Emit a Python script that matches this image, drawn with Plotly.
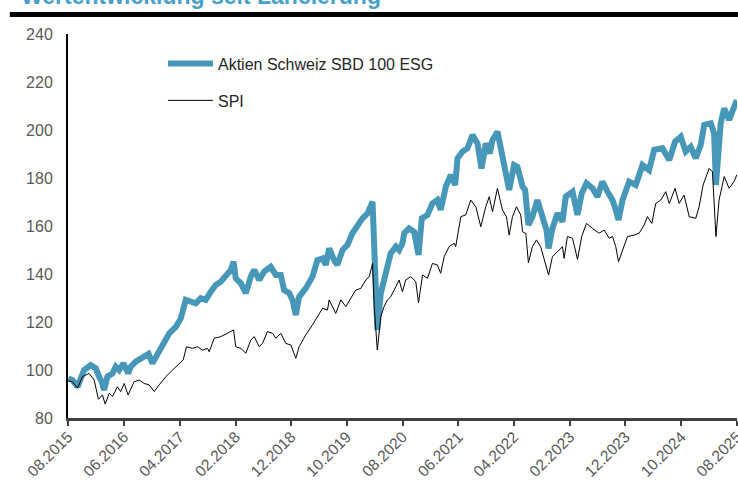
import plotly.graph_objects as go

esg_dates = [
    "2015-08-03", "2015-08-25", "2015-09-22", "2015-10-28", "2015-12-03", "2015-12-31", "2016-01-18",
    "2016-02-01", "2016-02-14", "2016-03-03", "2016-03-31", "2016-04-18", "2016-05-06", "2016-05-30",
    "2016-06-24", "2016-07-09", "2016-08-05", "2016-09-11", "2016-10-14", "2016-11-04", "2016-12-02",
    "2016-12-29", "2017-02-04", "2017-03-12", "2017-04-08", "2017-05-05", "2017-06-01", "2017-06-29",
    "2017-07-26", "2017-08-22", "2017-09-19", "2017-10-16", "2017-11-12", "2017-12-10", "2018-01-06",
    "2018-01-21", "2018-02-02", "2018-03-02", "2018-03-29", "2018-04-25", "2018-05-14", "2018-06-10",
    "2018-07-07", "2018-08-12", "2018-09-09", "2018-10-06", "2018-10-24", "2018-11-21", "2018-12-09",
    "2018-12-27", "2019-01-14", "2019-02-19", "2019-03-28", "2019-04-24", "2019-05-22", "2019-06-09",
    "2019-06-27", "2019-07-24", "2019-08-11", "2019-09-08", "2019-10-05", "2019-11-01", "2019-11-29",
    "2019-12-26", "2020-01-23", "2020-02-19", "2020-02-28", "2020-03-16", "2020-04-04", "2020-05-01",
    "2020-05-28", "2020-06-25", "2020-07-13", "2020-07-31", "2020-08-10", "2020-09-06", "2020-10-03",
    "2020-10-27", "2020-11-14", "2020-12-15", "2021-01-11", "2021-02-07", "2021-02-25", "2021-03-25",
    "2021-04-21", "2021-05-15", "2021-05-28", "2021-06-24", "2021-07-21", "2021-08-18", "2021-09-14",
    "2021-10-06", "2021-10-29", "2021-11-20", "2021-12-05", "2022-01-01", "2022-01-25", "2022-02-12",
    "2022-03-06", "2022-04-02", "2022-04-20", "2022-05-18", "2022-06-01", "2022-06-19", "2022-07-11",
    "2022-08-07", "2022-08-31", "2022-09-26", "2022-10-07", "2022-10-28", "2022-11-25", "2022-12-22",
    "2023-01-09", "2023-02-15", "2023-03-14", "2023-04-06", "2023-05-02", "2023-06-04", "2023-07-01",
    "2023-07-28", "2023-08-25", "2023-09-21", "2023-10-09", "2023-10-24", "2023-11-15", "2023-12-21",
    "2024-01-26", "2024-03-03", "2024-04-08", "2024-05-06", "2024-06-20", "2024-07-27", "2024-08-28",
    "2024-09-28", "2024-10-25", "2024-11-21", "2024-12-19", "2025-01-15", "2025-02-03", "2025-03-11",
    "2025-03-29", "2025-04-08", "2025-05-04", "2025-05-23", "2025-06-19", "2025-07-16", "2025-07-31",
]
esg_values = [
    96.5, 95.8, 93.0, 100.0, 102.0, 100.7, 97.2,
    95.1, 91.7, 97.2, 98.6, 101.4, 100.0, 102.8,
    98.6, 101.4, 103.5, 105.5, 106.7, 102.8, 107.0,
    110.4, 115.3, 118.0, 121.5, 129.2, 128.5, 127.8,
    129.9, 129.2, 132.6, 135.4, 136.8, 139.6, 141.7,
    145.1, 138.2, 136.1, 132.0, 138.9, 141.7, 137.5,
    141.0, 143.0, 139.6, 139.6, 133.3, 132.0, 129.2,
    122.9, 130.5, 134.0, 138.9, 145.8, 146.5, 143.8,
    150.7, 145.8, 143.8, 150.0, 152.1, 157.0, 160.4,
    163.2, 165.3, 170.1, 151.4, 116.7, 132.0, 140.3,
    148.6, 151.4, 150.0, 152.8, 157.0, 159.0, 157.6,
    147.9, 163.2, 164.6, 169.4, 170.8, 166.7, 176.4,
    181.3, 177.1, 188.2, 191.0, 192.4, 197.9, 194.4,
    184.0, 194.4, 190.3, 195.8, 199.3, 189.6, 185.4,
    175.0, 185.4, 184.7, 176.4, 175.0, 160.4, 163.9,
    170.8, 165.3, 158.3, 150.7, 159.0, 165.3, 161.8,
    172.2, 174.3, 164.6, 173.6, 177.8, 175.7, 172.2,
    178.5, 174.3, 170.8, 166.7, 162.5, 170.8, 178.5,
    177.1, 185.4, 183.3, 191.7, 192.4, 187.5, 195.1,
    197.2, 191.0, 193.0, 188.2, 193.8, 202.1, 202.8,
    198.6, 177.1, 202.8, 209.0, 204.2, 210.4, 212.5,
]

spi_dates = [
    "2015-08-03", "2015-08-25", "2015-09-22", "2015-10-19", "2015-11-24", "2015-12-22", "2016-01-14",
    "2016-02-05", "2016-02-20", "2016-03-13", "2016-03-31", "2016-04-27", "2016-05-15", "2016-06-03",
    "2016-06-24", "2016-07-09", "2016-07-27", "2016-08-24", "2016-09-20", "2016-10-17", "2016-11-14",
    "2016-12-11", "2017-01-16", "2017-02-22", "2017-03-30", "2017-04-21", "2017-05-09", "2017-06-11",
    "2017-07-08", "2017-08-04", "2017-09-01", "2017-09-10", "2017-10-07", "2017-11-12", "2017-12-19",
    "2018-01-21", "2018-02-02", "2018-03-02", "2018-03-29", "2018-04-25", "2018-05-14", "2018-06-10",
    "2018-06-28", "2018-07-25", "2018-08-22", "2018-09-09", "2018-10-06", "2018-11-02", "2018-11-30",
    "2018-12-27", "2019-01-14", "2019-02-19", "2019-03-28", "2019-05-04", "2019-05-22", "2019-06-18",
    "2019-06-27", "2019-08-02", "2019-08-30", "2019-09-26", "2019-10-23", "2019-11-19", "2019-12-17",
    "2020-01-13", "2020-02-01", "2020-02-19", "2020-02-28", "2020-03-16", "2020-04-04", "2020-04-22",
    "2020-05-10", "2020-05-28", "2020-06-25", "2020-07-13", "2020-07-31", "2020-08-18", "2020-09-15",
    "2020-10-12", "2020-10-27", "2020-11-18", "2020-12-15", "2021-01-11", "2021-02-07", "2021-02-25",
    "2021-03-16", "2021-04-12", "2021-05-10", "2021-05-18", "2021-06-15", "2021-07-12", "2021-08-08",
    "2021-09-05", "2021-10-02", "2021-10-29", "2021-11-17", "2021-12-05", "2022-01-01", "2022-01-28",
    "2022-02-19", "2022-03-06", "2022-03-24", "2022-04-15", "2022-05-08", "2022-05-18", "2022-06-05",
    "2022-06-19", "2022-07-11", "2022-08-02", "2022-08-25", "2022-09-18", "2022-10-07", "2022-10-28",
    "2022-11-25", "2022-12-22", "2022-12-31", "2023-01-18", "2023-02-15", "2023-03-14", "2023-04-06",
    "2023-05-02", "2023-06-04", "2023-07-10", "2023-08-07", "2023-09-03", "2023-09-21", "2023-10-09",
    "2023-10-24", "2023-11-15", "2023-12-12", "2024-01-17", "2024-02-14", "2024-03-12", "2024-03-30",
    "2024-04-23", "2024-05-14", "2024-06-11", "2024-07-08", "2024-07-27", "2024-08-28", "2024-09-19",
    "2024-10-16", "2024-11-13", "2024-12-19", "2025-01-06", "2025-01-28", "2025-03-02", "2025-03-20",
    "2025-04-08", "2025-04-25", "2025-05-23", "2025-06-19", "2025-07-16", "2025-07-31",
]
spi_values = [
    95.5, 95.1, 92.5, 97.2, 98.6, 95.8, 87.8,
    89.6, 85.8, 90.3, 88.9, 93.0, 91.0, 94.4,
    89.6, 92.4, 95.1, 95.8, 94.4, 93.8, 91.0,
    93.8, 97.2, 100.0, 102.8, 104.2, 109.7, 109.0,
    109.7, 108.3, 109.0, 107.6, 113.2, 113.9, 115.3,
    116.7, 109.7, 109.0, 107.0, 112.5, 113.9, 109.7,
    111.1, 116.0, 115.3, 113.2, 115.3, 111.1, 110.4,
    104.9, 109.7, 114.6, 118.8, 123.6, 125.7, 125.0,
    129.2, 123.6, 129.2, 126.4, 129.9, 133.3, 134.0,
    137.5, 138.9, 144.4, 126.4, 108.3, 122.2, 126.4,
    129.2, 130.5, 134.7, 137.5, 132.6, 137.5, 138.9,
    136.8, 128.0, 139.6, 138.2, 144.4, 143.8, 140.3,
    147.2, 151.4, 152.8, 151.4, 163.9, 164.6, 170.8,
    168.0, 159.7, 168.0, 172.2, 166.0, 175.7, 166.7,
    163.9, 156.2, 163.9, 168.0, 164.6, 157.6, 156.9,
    144.7, 151.4, 154.2, 151.4, 144.4, 139.6, 147.2,
    149.3, 151.4, 146.5, 155.6, 154.9, 146.1, 155.6,
    161.1, 159.0, 157.0, 158.3, 154.9, 155.6, 151.4,
    145.1, 150.0, 155.6, 156.2, 157.0, 160.4, 163.9,
    161.1, 169.4, 170.8, 174.3, 169.4, 175.7, 169.4,
    172.9, 163.9, 163.2, 168.0, 177.1, 184.0, 182.6,
    155.6, 170.8, 180.6, 175.7, 178.5, 181.3,
]

tick_dates = ["2015-08-01", "2016-06-01", "2017-04-01", "2018-02-01", "2018-12-01", "2019-10-01",
              "2020-08-01", "2021-06-01", "2022-04-01", "2023-02-01", "2023-12-01", "2024-10-01",
              "2025-08-01"]
tick_labels = ["08.2015", "06.2016", "04.2017", "02.2018", "12.2018", "10.2019", "08.2020",
               "06.2021", "04.2022", "02.2023", "12.2023", "10.2024", "08.2025"]
y_ticks = [80, 100, 120, 140, 160, 180, 200, 220, 240]

FONT = "Liberation Sans, Arial, sans-serif"
BLUE = "#4797b8"

fig = go.Figure()
fig.add_trace(go.Scatter(x=esg_dates, y=esg_values, mode="lines", name="Aktien Schweiz SBD 100 ESG",
                         line=dict(color=BLUE, width=6), legendgroup="a"))
fig.add_trace(go.Scatter(x=spi_dates, y=spi_values, mode="lines", name="SPI",
                         line=dict(color="#000000", width=1), legendgroup="b"))

fig.update_layout(
    width=738, height=484,
    margin=dict(l=68, r=1, t=34, b=66),
    paper_bgcolor="white", plot_bgcolor="white",
    font=dict(family=FONT, size=16, color="#595959"),
    showlegend=True,
    legend=dict(x=0.142, y=0.967, xanchor="left", yanchor="top", bgcolor="rgba(0,0,0,0)",
                font=dict(family=FONT, size=16, color="#262626"), tracegroupgap=13,
                itemwidth=45),
    xaxis=dict(type="date", range=["2015-08-01", "2025-08-01"], tickvals=tick_dates,
               ticktext=tick_labels, tickangle=-45, showgrid=False, zeroline=False,
               showline=True, linecolor="#404040", linewidth=2.5, ticks="outside",
               ticklen=5, tickwidth=1.5, tickcolor="#404040", ticklabeloverflow="allow",
               automargin=False, ticklabelstandoff=-4,
               tickfont=dict(family=FONT, size=15.5, color="#595959")),
    yaxis=dict(range=[80, 240], tickvals=y_ticks, showgrid=False, zeroline=False,
               showline=True, linecolor="#000000", linewidth=2, ticks="",
               ticklabelstandoff=10, automargin=False,
               tickfont=dict(family=FONT, size=16, color="#595959")),
)

fig.add_annotation(xref="paper", yref="paper", x=-0.073, y=1.06, xanchor="left", yanchor="bottom",
                   text="<b>Wertentwicklung seit Lancierung</b>", showarrow=False,
                   font=dict(family=FONT, size=23, color="#4a9fcb"))
fig.add_shape(type="rect", xref="paper", yref="paper", x0=-0.087, x1=1.01, y0=1.0443, y1=1.0573,
              fillcolor="#000000", line=dict(width=0), layer="above")

fig.write_html("out.html", config={"displayModeBar": False},
               post_script="document.body.style.margin='0';")
